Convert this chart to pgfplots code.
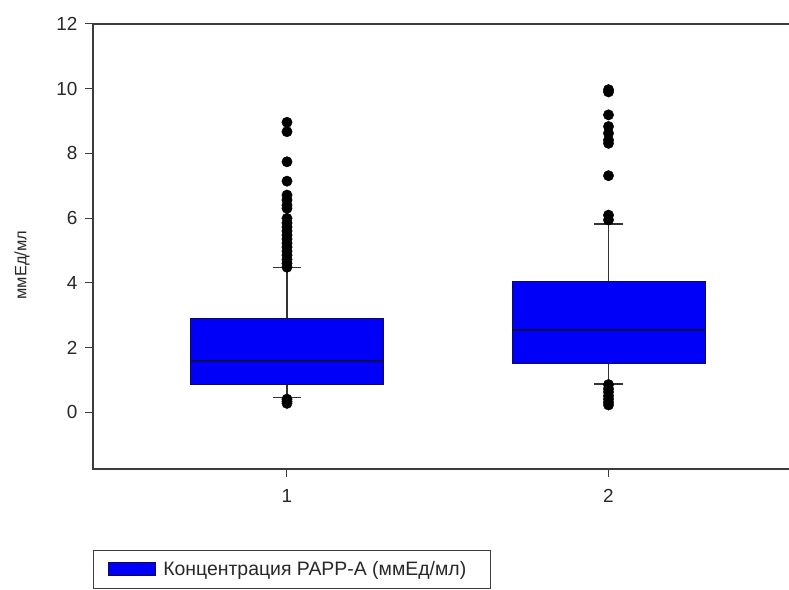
\documentclass[border=0pt]{standalone}
\usepackage{pgfplots}
\pgfplotsset{compat=1.18}
\usepgfplotslibrary{statistics}
\usepackage{fontspec}
\setmainfont{Liberation Sans}
\definecolor{boxblue}{RGB}{0,0,250}
\definecolor{boxedge}{RGB}{15,15,70}
\definecolor{axgray}{RGB}{60,60,60}
\definecolor{txtgray}{RGB}{40,40,40}
\begin{document}
\begin{tikzpicture}
\begin{axis}[
  set layers,
  at={(93bp,121bp)}, anchor=south west,
  scale only axis, width=708.4bp, height=445bp,
  xmin=0.3966, xmax=2.6, ymin=-1.76, ymax=12,
  xtick={1,2}, ytick={0,2,4,6,8,10,12},
  tick pos=left, tick align=outside,
  major tick length=8bp,
  tick style={axgray, line width=1bp},
  axis line style={axgray, line width=1.5bp},
  /pgf/number format/assume math mode=true,
  ticklabel style={font=\fontsize{19}{22}\selectfont, text=txtgray},
  yticklabel style={xshift=-4bp},
  xticklabel style={yshift=-9bp},
  ylabel={ммЕд/мл},
  ylabel style={at={(axis description cs:-0.1002,0.458)}, anchor=center, font=\fontsize{16.5}{19}\selectfont, text=txtgray},
  legend style={at={(axis description cs:0,-0.182)}, anchor=north west, draw=axgray, line width=1bp,
    font=\fontsize{19.5}{22}\selectfont, text=txtgray, inner xsep=14bp, inner ysep=10bp,
    nodes={inner sep=1bp}},
  legend cell align=left,
  boxplot/draw direction=y,
  boxplot/every box/.style={fill=boxblue, draw=boxedge, line width=0.8bp},
  boxplot/every median/.style={draw=boxedge, line width=1.6bp},
  boxplot/every whisker/.style={draw=black!80, line width=1.2bp},
]
\addlegendimage{legend image code/.code={\draw[fill=boxblue, draw=boxedge, line width=0.8bp] (0bp,-6.5bp) rectangle (47bp,6.5bp);}}
\addlegendentry{\hspace{7bp}Концентрация PAPP-A (ммЕд/мл)\rule{9bp}{0pt}}

\addplot[forget plot, draw=black, mark=*, mark size=5.2bp, mark options={fill=black, draw=black},
  boxplot prepared={draw position=1, median=1.577, lower quartile=0.857, upper quartile=2.886,
    lower whisker=0.455, upper whisker=4.46, box extend=0.6, whisker extend=0.09}]
  table[row sep=\\, y index=0] {
  8.96\\ 8.67\\ 7.74\\ 7.14\\ 6.71\\ 6.56\\ 6.40\\ 6.30\\ 5.99\\ 5.85\\ 5.72\\ 5.60\\ 5.47\\
  5.35\\ 5.22\\ 5.10\\ 4.97\\ 4.85\\ 4.72\\ 4.60\\ 4.48\\ 0.40\\ 0.33\\ 0.27\\
  };

\addplot[forget plot, draw=black, mark=*, mark size=5.2bp, mark options={fill=black, draw=black},
  boxplot prepared={draw position=2, median=2.536, lower quartile=1.506, upper quartile=4.03,
    lower whisker=0.866, upper whisker=5.815, box extend=0.6, whisker extend=0.09}]
  table[row sep=\\, y index=0] {
  9.97\\ 9.90\\ 9.19\\ 8.83\\ 8.62\\ 8.41\\ 8.31\\ 7.31\\ 6.09\\ 5.94\\
  0.85\\ 0.72\\ 0.62\\ 0.50\\ 0.40\\ 0.30\\ 0.22\\
  };

\addplot[forget plot, on layer=axis foreground, draw=boxedge, line width=1.6bp, mark=none]
  coordinates {(0.7015,1.577) (1.2985,1.577)};
\end{axis}
\pgfresetboundingbox
\path[use as bounding box] (0,0) rectangle (789bp,590bp);
\end{tikzpicture}
\end{document}
